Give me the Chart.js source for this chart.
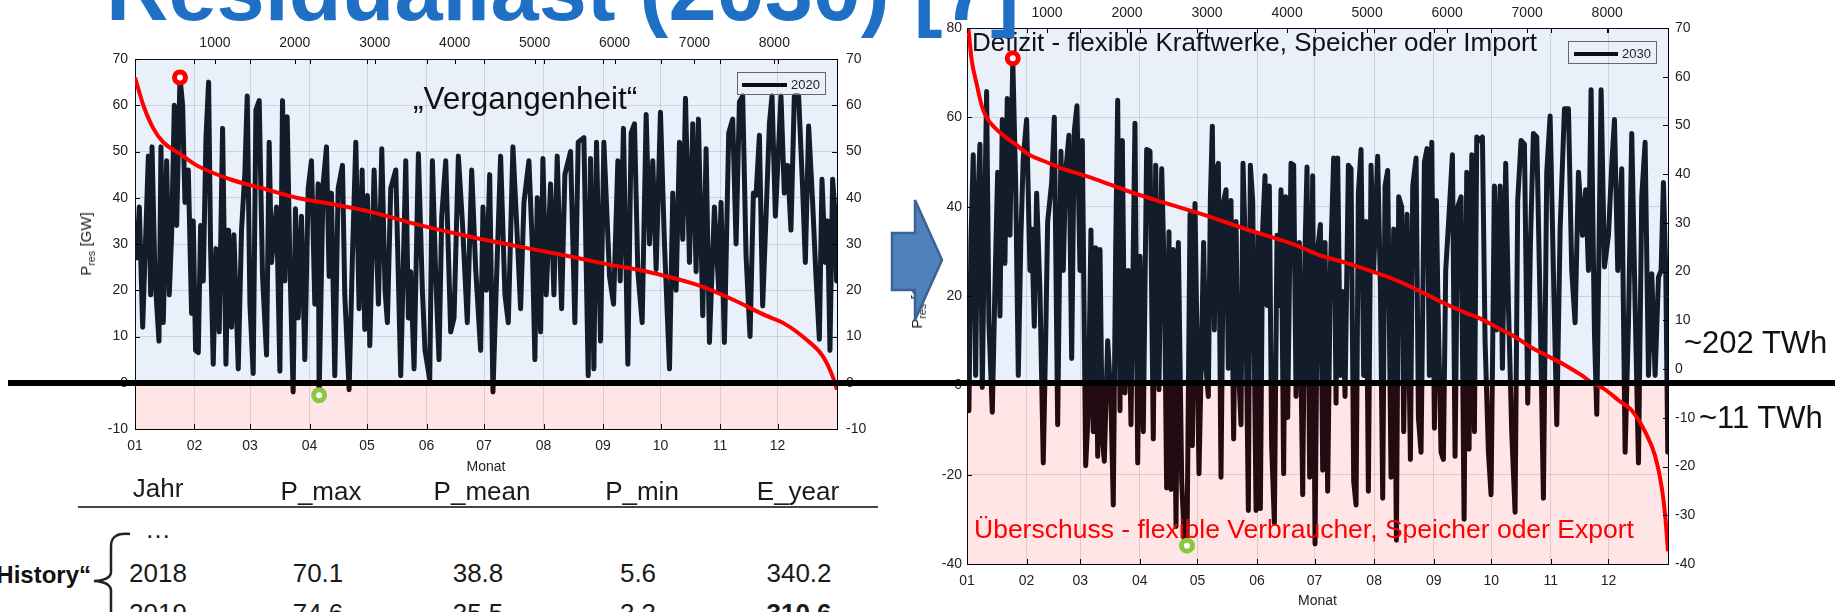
<!DOCTYPE html>
<html lang="de">
<head>
<meta charset="utf-8">
<title>Residuallast (2030)</title>
<script src="https://cdn.jsdelivr.net/npm/chart.js@4.4.1/dist/chart.umd.min.js"></script>
<style>
  html, body { margin: 0; padding: 0; background: #fff; }
  body { width: 1835px; height: 612px; position: relative; overflow: hidden;
         font-family: 'Liberation Sans', Arial, sans-serif; color: #111; }
  canvas { position: absolute; top: 0; }
  .txt { position: absolute; white-space: nowrap; line-height: 1; }
  .zelle { position: absolute; white-space: nowrap; line-height: 1; font-size: 26px;
           transform: translateX(-50%); color: #1a1a1a; }
  .ylab { position: absolute; white-space: nowrap; font-size: 15px; color: #222;
          transform: translate(-50%, -50%) rotate(-90deg); }
  .ylab sub { font-size: 0.72em; }
  .legende { position: absolute; border: 1px solid #666; box-sizing: border-box; }
  .legende .strich { position: absolute; height: 3.5px; background: #0a0e15; }
  .legende span { position: absolute; font-size: 13px; line-height: 1; color: #222; }
</style>
</head>
<body>

<canvas id="chart2020" width="850" height="480" style="left:40px"></canvas>
<canvas id="chart2030" width="810" height="612" style="left:925px"></canvas>

<!-- Texte in den Diagrammen -->
<div class="txt" style="left:413px;top:83px;font-size:31.5px">„Vergangenheit“</div>
<div class="txt" style="left:972px;top:29px;font-size:26px">Defizit - flexible Kraftwerke, Speicher oder Import</div>
<div class="txt" style="left:974px;top:516px;font-size:26.5px;color:#ff0000">Überschuss - flexible Verbraucher, Speicher oder Export</div>
<div class="txt" style="left:1684px;top:327px;font-size:31px">~202 TWh</div>
<div class="txt" style="left:1699px;top:402px;font-size:31px">~11 TWh</div>

<div class="legende" style="left:737px;top:72px;width:89px;height:23px">
  <div class="strich" style="left:4px;top:10px;width:45px"></div>
  <span style="left:53px;top:5px">2020</span>
</div>
<div class="legende" style="left:1568px;top:41px;width:89px;height:23px">
  <div class="strich" style="left:5px;top:10px;width:44px"></div>
  <span style="left:53px;top:5px">2030</span>
</div>

<div class="ylab" style="left:87px;top:244px">P<sub>res</sub> [GW]</div>
<div class="ylab" style="left:918px;top:297px">P<sub>res</sub> [GW]</div>

<!-- Tabelle -->
<div class="zelle" style="left:158px;top:475px">Jahr</div>
<div class="zelle" style="left:321px;top:478px">P_max</div>
<div class="zelle" style="left:482px;top:478px">P_mean</div>
<div class="zelle" style="left:642px;top:478px">P_min</div>
<div class="zelle" style="left:798px;top:478px">E_year</div>
<div style="position:absolute;left:78px;top:506px;width:800px;height:2px;background:#444"></div>
<div class="zelle" style="left:158px;top:516px">…</div>
<div class="zelle" style="left:158px;top:560px">2018</div>
<div class="zelle" style="left:318px;top:560px">70.1</div>
<div class="zelle" style="left:478px;top:560px">38.8</div>
<div class="zelle" style="left:638px;top:560px">5.6</div>
<div class="zelle" style="left:799px;top:560px">340.2</div>
<div class="zelle" style="left:158px;top:600px">2019</div>
<div class="zelle" style="left:318px;top:600px">74.6</div>
<div class="zelle" style="left:478px;top:600px">35.5</div>
<div class="zelle" style="left:638px;top:600px">3.3</div>
<div class="zelle" style="left:799px;top:600px;font-weight:bold">310.6</div>
<div class="txt" style="right:1744px;top:563px;font-size:24px;font-weight:bold">„History“</div>
<svg style="position:absolute;left:0;top:0" width="1835" height="612">
  <path d="M130 534 Q111 532 111 546 L111 572 Q111 580 94 581 Q111 582 111 591 L111 620" fill="none" stroke="#222" stroke-width="2.5"/>
  <polygon points="892,233 915,233 915,200 942,260 915,320 915,290 892,290" fill="#4f81bd" stroke="#3a6394" stroke-width="2.5"/>
</svg>

<div class="txt" style="left:106px;top:-53px;font-size:86.5px;font-weight:bold;color:#1f6fc5">Residuallast (2030) [7]</div>

<!-- dicke Null-Linie quer über die Folie -->
<div style="position:absolute;left:8px;top:380px;width:1827px;height:6px;background:#000"></div>

<script>
// Achsen-Beschriftungen
const monatLabels = ['01', '02', '03', '04', '05', '06', '07', '08', '09', '10', '11', '12'];
const stundenTicks = [1000, 2000, 3000, 4000, 5000, 6000, 7000, 8000];
const monatsanfang2020 = [0, 744, 1440, 2184, 2904, 3648, 4368, 5112, 5856, 6576, 7320, 8040];
const monatsanfang2030 = [0, 744, 1416, 2160, 2880, 3624, 4344, 5088, 5832, 6552, 7296, 8016];

// Residuallast 2020 (Stunde, GW) - Spitzen und Taeler
const stunden2020 = [21, 54, 96, 167, 196, 213, 250, 300, 325, 354, 396, 429, 458, 492, 521, 563, 596, 625, 667, 708,
  729, 758, 792, 821, 854, 888, 921, 946, 979, 1013, 1054, 1096, 1138, 1171, 1208, 1238, 1292, 1333, 1375, 1404,
  1438, 1479, 1513, 1554, 1596, 1646, 1679, 1708, 1771, 1813, 1846, 1875, 1904, 1938, 1979, 2008, 2042, 2083, 2125, 2167,
  2208, 2250, 2292, 2304, 2354, 2396, 2429, 2458, 2500, 2542, 2596, 2625, 2679, 2721, 2763, 2804, 2842, 2875, 2908, 2938,
  2992, 3046, 3088, 3129, 3158, 3200, 3263, 3325, 3388, 3421, 3450, 3492, 3546, 3596, 3629, 3688, 3721, 3763, 3804, 3838,
  3888, 3950, 3992, 4046, 4096, 4158, 4213, 4263, 4325, 4354, 4396, 4438, 4479, 4521, 4575, 4629, 4671, 4729, 4771, 4825,
  4867, 4929, 4971, 5004, 5033, 5075, 5104, 5146, 5200, 5242, 5283, 5338, 5379, 5450, 5504, 5546, 5617, 5671, 5700, 5742,
  5775, 5825, 5867, 5938, 5988, 6042, 6071, 6112, 6167, 6208, 6250, 6292, 6346, 6396, 6438, 6479, 6521, 6575, 6625, 6688,
  6729, 6771, 6813, 6854, 6888, 6938, 6979, 7021, 7050, 7104, 7146, 7188, 7250, 7304, 7333, 7375, 7429, 7479, 7521, 7563,
  7604, 7646, 7696, 7738, 7771, 7813, 7854, 7896, 7938, 7971, 8013, 8083, 8125, 8167, 8208, 8250, 8304, 8354, 8388, 8429,
  8479, 8521, 8563, 8596, 8638, 8667, 8696, 8729, 8758, 8779];
const pres2020 = [27, 38, 12, 49, 19, 51, 23, 9, 51, 13, 48, 19, 32, 60, 34, 66, 60, 39, 46, 15,
  35, 7, 6.5, 34, 22, 53, 65, 29, 4, 29, 11, 55, 4, 33, 12, 32, 3, 33, 45.5, 62,
  17, 2, 59, 61, 23, 6, 52, 26, 38, 2.5, 61, 22, 57.5, 26, -2, 37.6, 14, 36, 5, 42,
  48, 17, 43, -2.5, 43, 51, 23, 41, 1.5, 42, 47, 19, -1.5, 27.5, 52, 16, 46, 11.5, 40.5, 8,
  46, 17, 50.6, 20, 13, 42, 46, 1.5, 48, 14, 24, 3, 49.5, 20, 7, 0.7, 48, 23, 5, 36,
  48, 11, 14, 49, 35, 13, 46, 24.5, 7, 38, 20, 45, -2, 21, 49, 19, 13, 51, 36, 16,
  39, 48, 30, 5, 40, 11, 48.5, 19, 43, 19, 49, 16, 45, 50, 13, 52, 53, 1.5, 48.5, 3,
  52, 9, 52, 23, 17, 48, 22, 55, 4, 54, 56, 24, 13, 58, 30, 48, 24.5, 58.5, 30, 3,
  41, 20, 52, 31, 61.5, 26, 56, 24, 57, 14.5, 50.6, 8.7, 38, 20, 39, 8.7, 54, 57, 30, 60.7,
  62, 27.5, 10, 41, 40.5, 53.5, 16.6, 36, 56, 62, 36, 62, 41, 47, 33, 62, 62, 42, 26, 55.5,
  39, 23, 9.4, 44, 26, 35, 7, 44, 37, 22];

// Geordnete Dauerlinie 2020
const dauerStunden2020 = [0, 104, 229, 354, 563, 771, 1188, 1604, 2021, 2438, 2938, 3513, 4138, 4763, 5388, 5888,
  6438, 7063, 7479, 7896, 8104, 8396, 8604, 8729, 8784];
const dauer2020 = [66, 60, 55, 52, 49.5, 47, 44, 42, 40, 38.7, 37, 34.3, 31.8, 29.6, 27.5, 25.7,
  23.9, 21, 18, 14.5, 13, 9.4, 5.8, 1.4, -1.5];
const max2020 = [563, 66];
const min2020 = [2304, -2.7];

// Residuallast 2030 (Stunde, GW)
const stunden2030 = [8, 24, 49, 78, 108, 133, 162, 191, 224, 245, 274, 316, 349, 383, 412, 441, 474, 503, 537, 558,
  572, 608, 641, 674, 703, 745, 787, 808, 841, 870, 912, 953, 983, 1008, 1058, 1091, 1133, 1174, 1203, 1233,
  1274, 1308, 1341, 1374, 1412, 1441, 1483, 1516, 1549, 1578, 1608, 1633, 1662, 1691, 1716, 1758, 1799, 1828, 1858, 1883,
  1912, 1941, 1974, 2016, 2049, 2099, 2133, 2162, 2203, 2245, 2287, 2328, 2358, 2399, 2433, 2466, 2495, 2524, 2549, 2578,
  2612, 2641, 2683, 2716, 2749, 2787, 2816, 2849, 2899, 2957, 2987, 3016, 3041, 3066, 3091, 3112, 3141, 3174, 3208, 3237,
  3266, 3299, 3332, 3362, 3382, 3424, 3449, 3474, 3516, 3541, 3570, 3612, 3641, 3666, 3695, 3724, 3749, 3778, 3807, 3841,
  3874, 3903, 3924, 3957, 3982, 4007, 4049, 4082, 4112, 4153, 4195, 4224, 4249, 4282, 4320, 4349, 4382, 4416, 4445, 4474,
  4507, 4541, 4582, 4612, 4632, 4666, 4695, 4724, 4766, 4799, 4832, 4862, 4891, 4924, 4957, 4987, 5016, 5049, 5082, 5132,
  5166, 5195, 5224, 5257, 5299, 5332, 5366, 5395, 5432, 5457, 5499, 5541, 5570, 5612, 5641, 5674, 5716, 5749, 5778, 5808,
  5841, 5866, 5882, 5924, 5953, 5982, 6024, 6066, 6099, 6133, 6174, 6212, 6245, 6274, 6308, 6341, 6370, 6412, 6441, 6474,
  6516, 6549, 6591, 6620, 6662, 6691, 6732, 6766, 6807, 6849, 6882, 6924, 6966, 7007, 7041, 7078, 7120, 7162, 7203, 7245,
  7287, 7328, 7370, 7412, 7466, 7516, 7557, 7599, 7641, 7691, 7732, 7766, 7799, 7841, 7870, 7924, 7966, 8016, 8057, 8091,
  8132, 8182, 8224, 8266, 8307, 8349, 8391, 8432, 8474, 8516, 8557, 8599, 8641, 8674, 8703, 8732, 8757];
const pres2030 = [7.7, -5.7, 32, 51.6, 2.2, 40, 54, -0.5, 41.4, 65.8, 14, -6, 21.8, 47.7, 15.5, 59.5, 27.3, 64.2, 33.6, 57,
  73, 45.4, 2.2, 33.6, 50.9, 59.5, 25.7, 35, 13.2, 43, 21, -17.4, 10, 36.7, 45.4, 60, -8.8, 52.4, 25.7, 47.7,
  56, 6, 57, 62.6, 25.7, 54.8, -18, -5.7, 34.8, -10.4, 30.8, -15.9, 30.4, -12, -17, 10, -3.3, -26.8, 30.4, 63.8,
  -5.7, 54.8, -1.7, 25.7, -8.8, 58.7, -17.4, 28.9, -10.4, 52.8, 52.4, -12, 49.3, -1, 48.5, 24.2, -23, 34.4, -23.3, 30.4,
  -31.6, 32, -21.4, -34.7, -35.9, 38.3, -13.5, 40.7, -19.8, 32, 3.8, -2.5, 41.4, 58, 12.4, 47.7, 49.7, -20.6, 41.4, 43.8,
  3.8, 41.4, -12, 36.7, 8.5, -8.8, 49.7, 33.6, -28, 49.3, 41.4, -28, 33.6, -27.6, 35, 46.9, 17.9, 44.6, -13.5, -30.8,
  33.6, 17.9, 43.8, -19.8, 42.2, -7.2, 49.7, 49.3, -2.5, 32, -24.5, 30.4, 48.9, -20.6, 46.9, -35.5, 30.4, 36, -19, 32,
  -23.7, 25.7, 50.9, -4, 50.9, 2.2, 21, -2.5, 49.3, 48.5, -21.4, -26.8, 43, 52.8, 2.2, 36.7, -23.7, 49.3, 25.7, 51.3,
  21.8, -25.3, 44.6, 48.1, -20.6, 35, -34.7, 42.2, 40, -10.4, 38.3, -16.6, 44.6, 50.9, -7.2, -15, 50, 53, 2.2, 54.4,
  -9.6, 41.4, 21.8, -15, -16.6, 25.7, 38.3, 51.6, -15.9, 40, 42.2, -30, 47.7, -14.3, 51.6, -10.4, 55.6, 54.8, 55.6, 10,
  -15, -24.5, 44.6, 12.4, 44.6, 3.8, 49.7, 17.9, -10.4, -28.4, 41.4, 54.8, 54, -4, 32, 56.4, 55.6, 17.9, -25.3, 47.7,
  60.3, 25.7, -8.8, 35, 61.9, 61.9, 25.7, 14, 47.7, 33.6, 43.8, 25.7, 66.2, 11.6, -6.5, 66.2, 26.5, 33.6, 49.3, 59.5,
  25.7, 48.5, -15, 14, 56.4, 17.9, -17.4, 42.2, 54.4, 2.2, 25, 2.2, 24.2, 25.7, 45.4, 25.7, -15];

// Geordnete Dauerlinie 2030 (rechte Achse)
const dauerStunden2030 = [0, 58, 121, 183, 246, 350, 475, 600, 767, 975, 1183, 1392, 1600, 2017, 2433, 2933, 3508,
  4133, 4383, 4758, 5383, 6016, 6225, 6433, 6641, 6850, 7058, 7266, 7475, 7683, 7808, 7975, 8141, 8308, 8475,
  8600, 8683, 8725, 8760];
const dauer2030 = [73, 63.5, 58.5, 54.1, 51.6, 49.5, 47.7, 46.2, 44.1, 42.6, 41.2, 40.1, 39, 36.5, 34.3, 31.8, 28.6,
  25.3, 23.5, 21.7, 18.1, 13.1, 11.6, 10.2, 8.4, 6.6, 4.4, 2.6, 0.8, -1.3, -2.8, -4.2, -6.4, -8.5, -12.9,
  -17.9, -24.4, -30.1, -37.4];
const max2030 = [572, 73.2];
const min2030 = [2749, -35.9];

const schrift = { family: "'Liberation Sans', Arial, sans-serif", size: 14 };
const tickFarbe = '#222';
const gitterFarbe = 'rgba(0,0,0,0.13)';

// halbtransparente Flaechen fuer Defizit (blau) und Ueberschuss (rot), direkt nach der Residuallast
const zonenPlugin = {
  id: 'zonen',
  afterDatasetDraw(chart, args) {
    if (args.index !== 0) return;
    const { ctx, chartArea: a, scales } = chart;
    const y0 = scales.y.getPixelForValue(0);
    ctx.save();
    ctx.fillStyle = 'rgba(82,128,204,0.12)';
    ctx.fillRect(a.left, a.top, a.right - a.left, y0 - a.top);
    ctx.fillStyle = 'rgba(255,0,0,0.1)';
    ctx.fillRect(a.left, y0, a.right - a.left, a.bottom - y0);
    ctx.restore();
  }
};

// kurze Tick-Striche nach innen (wie in MATLAB)
const tickPlugin = {
  id: 'innenTicks',
  afterDraw(chart) {
    const { ctx, chartArea: a, scales } = chart;
    const len = 5;
    ctx.save();
    ctx.strokeStyle = '#000';
    ctx.lineWidth = 1;
    ctx.beginPath();
    scales.y.ticks.forEach(t => {
      const p = Math.round(scales.y.getPixelForValue(t.value)) + 0.5;
      ctx.moveTo(a.left, p); ctx.lineTo(a.left + len, p);
    });
    scales.y2.ticks.forEach(t => {
      const p = Math.round(scales.y2.getPixelForValue(t.value)) + 0.5;
      ctx.moveTo(a.right, p); ctx.lineTo(a.right - len, p);
    });
    scales.x.ticks.forEach(t => {
      const p = Math.round(scales.x.getPixelForValue(t.value)) + 0.5;
      ctx.moveTo(p, a.bottom); ctx.lineTo(p, a.bottom - len);
      ctx.moveTo(p, a.top); ctx.lineTo(p, a.top + len);
    });
    scales.xTop.ticks.forEach(t => {
      const p = Math.round(scales.xTop.getPixelForValue(t.value)) + 0.5;
      ctx.moveTo(p, a.top); ctx.lineTo(p, a.top + len);
    });
    ctx.stroke();
    ctx.restore();
  }
};

const punkte = (xs, ys) => xs.map((x, i) => ({ x: x, y: ys[i] }));

function residualChart(id, o) {
  return new Chart(document.getElementById(id), {
    type: 'line',
    data: {
      datasets: [
        { label: o.label, data: punkte(o.stunden, o.werte), yAxisID: 'y', order: 3,
          borderColor: '#0a0e15', borderWidth: 5, pointRadius: 0,
          borderJoinStyle: 'round', borderCapStyle: 'round' },
        { label: 'Dauerlinie', data: punkte(o.dauerStunden, o.dauer), yAxisID: o.dauerAchse, order: 2,
          borderColor: '#ff0000', borderWidth: 4, pointRadius: 0, cubicInterpolationMode: 'monotone' },
        { label: 'Max', data: [{ x: o.max[0], y: o.max[1] }], yAxisID: 'y', order: 1, showLine: false,
          pointRadius: 5.5, pointBorderWidth: 5, pointBorderColor: '#ff0000', pointBackgroundColor: '#fff' },
        { label: 'Min', data: [{ x: o.min[0], y: o.min[1] }], yAxisID: 'y', order: 1, showLine: false,
          pointRadius: 5.5, pointBorderWidth: 5, pointBorderColor: '#8dc63f', pointBackgroundColor: '#fff' }
      ]
    },
    options: {
      responsive: false,
      animation: false,
      events: [],
      layout: { padding: 0 },
      plugins: { legend: { display: false }, tooltip: { enabled: false } },
      scales: {
        x: {
          type: 'linear', position: 'bottom', min: 0, max: o.xMax,
          afterBuildTicks: s => { s.ticks = o.monate.map(v => ({ value: v })); },
          afterFit: s => { s.height = o.rand.unten; },
          ticks: { autoSkip: false, maxRotation: 0, padding: o.abstand.unten, color: tickFarbe, font: schrift,
                   callback: (v, i) => monatLabels[i] },
          grid: { color: gitterFarbe, drawTicks: false },
          border: { color: '#000', width: 1 },
          title: { display: true, text: 'Monat', color: tickFarbe, font: schrift,
                   padding: { top: 0, bottom: o.titelAbstand } }
        },
        xTop: {
          type: 'linear', position: 'top', min: 0, max: o.xMax,
          afterBuildTicks: s => { s.ticks = stundenTicks.map(v => ({ value: v })); },
          afterFit: s => { s.height = o.rand.oben; },
          ticks: { autoSkip: false, maxRotation: 0, padding: o.abstand.oben, color: tickFarbe, font: schrift,
                   callback: v => String(v) },
          grid: { drawOnChartArea: false, drawTicks: false },
          border: { color: '#000', width: 1 }
        },
        y: {
          position: 'left', min: o.yMin, max: o.yMax,
          afterFit: s => { s.width = o.rand.links; },
          ticks: { stepSize: o.yStep, padding: o.abstand.links, color: tickFarbe, font: schrift },
          grid: { color: gitterFarbe, drawTicks: false },
          border: { color: '#000', width: 1 }
        },
        y2: {
          position: 'right', min: o.y2Min, max: o.y2Max,
          afterFit: s => { s.width = o.rand.rechts; },
          ticks: { stepSize: 10, padding: o.abstand.rechts, color: tickFarbe, font: schrift },
          grid: { drawOnChartArea: false, drawTicks: false },
          border: { color: '#000', width: 1 }
        }
      }
    },
    plugins: [zonenPlugin, tickPlugin]
  });
}

document.addEventListener('DOMContentLoaded', function() {
  // links: 2020 ("Vergangenheit")
  residualChart('chart2020', {
    label: '2020', stunden: stunden2020, werte: pres2020,
    dauerStunden: dauerStunden2020, dauer: dauer2020, dauerAchse: 'y',
    max: max2020, min: min2020, monate: monatsanfang2020, xMax: 8784,
    yMin: -10, yMax: 70, yStep: 10, y2Min: -10, y2Max: 70,
    rand: { links: 95, rechts: 53, oben: 59, unten: 51 },
    abstand: { links: 7, rechts: 9, oben: 7, unten: 9 },
    titelAbstand: 4
  });

  // rechts: 2030
  residualChart('chart2030', {
    label: '2030', stunden: stunden2030, werte: pres2030,
    dauerStunden: dauerStunden2030, dauer: dauer2030, dauerAchse: 'y2',
    max: max2030, min: min2030, monate: monatsanfang2030, xMax: 8760,
    yMin: -40, yMax: 80, yStep: 20, y2Min: -40, y2Max: 70,
    rand: { links: 42, rechts: 67, oben: 28, unten: 48 },
    abstand: { links: 5, rechts: 7, oben: 6, unten: 9 },
    titelAbstand: 2
  });
});
</script>
</body>
</html>
